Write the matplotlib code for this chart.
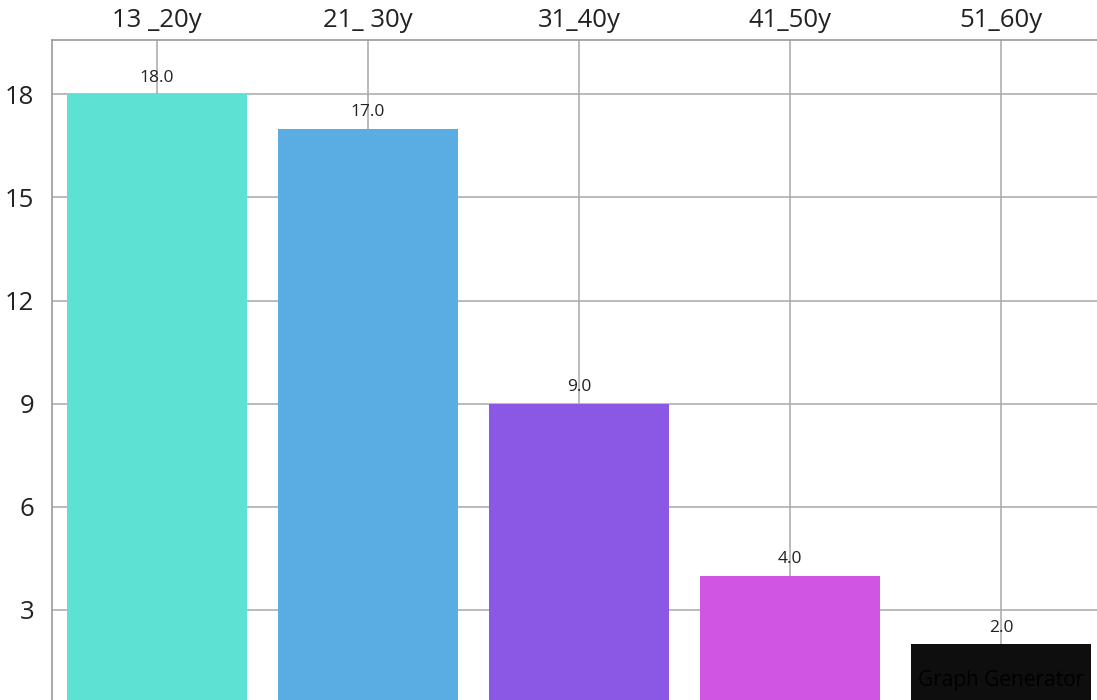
import matplotlib.pyplot as plt

# Datos del gráfico
categorias = ['13 _20y', '21_ 30y', '31_40y', '41_50y', '51_60y']
valores = [18.0, 17.0, 9.0, 4.0, 2.0]
colores = ['#5ce1d2', '#59ade2', '#8a58e5', '#cf56e3', '#0e0e0e']
ticks_y = [3, 6, 9, 12, 15, 18]

plt.rcParams['font.family'] = ['Open Sans', 'DejaVu Sans']

fig = plt.figure(figsize=(10.97, 7.0), dpi=100)
ax = fig.add_axes([52 / 1097, 0, 1045 / 1097, 660 / 700])

pos = list(range(len(categorias)))
ax.bar(pos, valores, width=0.85, color=colores, zorder=2)

# Etiquetas de valor encima de cada barra
for x, v in zip(pos, valores):
    ax.annotate(f'{v:.1f}', (x, v), xytext=(0, 6), textcoords='offset points',
                ha='center', va='bottom', fontsize=12.5, color='#222222', zorder=3)

# Marca de agua en la última barra
ax.text(4.0, 0.95, 'Graph Generator', ha='center', va='center',
        fontsize=15, color='#000000', zorder=3)

ax.set_xlim(-0.498, 4.455)
ax.set_ylim(0.38, 19.58)
ax.set_xticks(pos)
ax.set_xticklabels(categorias)
ax.set_yticks(ticks_y)
ax.xaxis.tick_top()
ax.tick_params(axis='x', length=0, pad=5, labelsize=18.5, colors='#222222')
ax.tick_params(axis='y', length=0, pad=13, labelsize=18.5, colors='#222222')

ax.grid(True, color='#a8a8a8', linewidth=1.1, zorder=0)
for lado in ['left', 'top']:
    ax.spines[lado].set_color('#9a9a9a')
    ax.spines[lado].set_linewidth(1.2)
ax.spines['right'].set_visible(False)
ax.spines['bottom'].set_visible(False)

fig.savefig('out.png', dpi=100)
